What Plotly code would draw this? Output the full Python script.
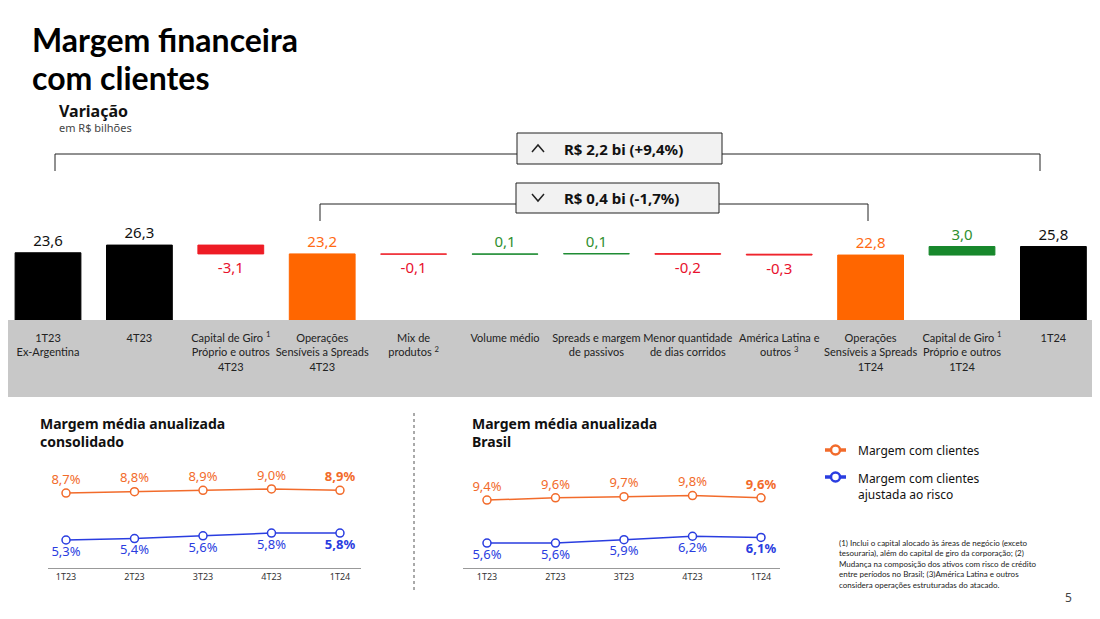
import plotly.graph_objects as go

# the page adds an 8px body margin, so the figure is drawn 8px in from the corner
OFF = 8
W, H = 1100 - 2 * OFF, 619 - 2 * OFF


def px(x):
    return (x - OFF) / W


def py(y):
    return 1 - (y - OFF) / H


# waterfall data
wf_labels = ["1T23<br>Ex-Argentina", "4T23", "Capital de Giro <sup>1</sup><br>Próprio e outros<br>4T23",
             "Operações<br>Sensíveis a Spreads<br>4T23", "Mix de<br>produtos <sup>2</sup>", "Volume médio",
             "Spreads e margem<br>de passivos", "Menor quantidade<br>de dias corridos",
             "América Latina e<br>outros <sup>3</sup>", "Operações<br>Sensíveis a Spreads<br>1T24",
             "Capital de Giro <sup>1</sup><br>Próprio e outros<br>1T24", "1T24"]
wf_values = [23.6, 26.3, -3.1, 23.2, -0.1, 0.1, 0.1, -0.2, -0.3, 22.8, 3.0, 25.8]
wf_measure = ["total", "total", "relative", "subtotal", "relative", "relative", "relative",
              "relative", "relative", "subtotal", "relative", "total"]

# line charts data
quarters = ["1T23", "2T23", "3T23", "4T23", "1T24"]
cons_margem = [8.7, 8.8, 8.9, 9.0, 8.9]
cons_ajustada = [5.3, 5.4, 5.6, 5.8, 5.8]
br_margem = [9.4, 9.6, 9.7, 9.8, 9.6]
br_ajustada = [5.6, 5.6, 5.9, 6.2, 6.1]

BLACK = "#000000"
ORANGE = "#ff6600"
RED = "#ee1c25"
GREEN = "#17882c"
L_ORANGE = "#f26b2b"
L_BLUE = "#2a3de0"
FONT = "Noto Sans"


def fmt(v):
    return f"{v:.1f}".replace(".", ",")


bases, heights, colors, tcolors = [], [], [], []
running = 0
for v, m in zip(wf_values, wf_measure):
    if m == "relative":
        bases.append(running)
        running += v
        colors.append(GREEN if v > 0 else RED)
        tcolors.append("#2f8f2f" if v > 0 else "#e8112d")
    else:
        bases.append(0)
        running = v
        colors.append(BLACK if m == "total" else ORANGE)
        tcolors.append("#111111" if m == "total" else "#ff6a13")
    heights.append(v)

fig = go.Figure()

fig.add_trace(go.Bar(
    x=list(range(len(wf_values))), y=heights, base=bases,
    marker=dict(color=colors, line=dict(color=colors, width=1)),
    width=0.72, text=[fmt(v) for v in wf_values], textposition="outside",
    textfont=dict(color=tcolors, size=15, family=FONT), cliponaxis=False,
    showlegend=False, xaxis="x", yaxis="y"))


def pct(vals):
    out = [fmt(v) + "%" for v in vals]
    out[-1] = "<b>" + out[-1] + "</b>"
    return out


for vals, col, pos, ax in [(cons_margem, L_ORANGE, "top center", "2"),
                           (cons_ajustada, L_BLUE, "bottom center", "2"),
                           (br_margem, L_ORANGE, "top center", "3"),
                           (br_ajustada, L_BLUE, "bottom center", "3")]:
    fig.add_trace(go.Scatter(
        x=quarters, y=vals, mode="lines+markers+text",
        line=dict(color=col, width=1.5),
        marker=dict(symbol="circle", size=8, color="white", line=dict(color=col, width=1.5)),
        text=pct(vals), textposition=pos,
        textfont=dict(color=col, size=13, family=FONT),
        cliponaxis=False, showlegend=False, xaxis="x" + ax, yaxis="y" + ax))

LINE = dict(color="#222", width=1)
shapes = [
    # gray band
    dict(type="rect", x0=0, x1=1, y0=py(397), y1=py(320),
         fillcolor="#c8c8c8", line_width=0, layer="below"),
    # top bracket
    dict(type="line", x0=px(55), x1=px(1040), y0=py(154), y1=py(154), line=LINE),
    dict(type="line", x0=px(55), x1=px(55), y0=py(154), y1=py(171), line=LINE),
    dict(type="line", x0=px(1040), x1=px(1040), y0=py(154), y1=py(171), line=LINE),
    dict(type="rect", x0=px(517), x1=px(722), y0=py(164), y1=py(133), fillcolor="#f2f2f2", line=LINE),
    # second bracket
    dict(type="line", x0=px(320), x1=px(868), y0=py(204), y1=py(204), line=LINE),
    dict(type="line", x0=px(320), x1=px(320), y0=py(204), y1=py(221), line=LINE),
    dict(type="line", x0=px(868), x1=px(868), y0=py(204), y1=py(221), line=LINE),
    dict(type="rect", x0=px(516), x1=px(719), y0=py(213), y1=py(183), fillcolor="#f2f2f2", line=LINE),
    # chevrons
    dict(type="path", path=f"M {px(532)},{py(152)} L {px(538)},{py(145)} L {px(544)},{py(152)}",
         line=dict(color="#222", width=1.5)),
    dict(type="path", path=f"M {px(532)},{py(194)} L {px(538)},{py(201)} L {px(544)},{py(194)}",
         line=dict(color="#222", width=1.5)),
    # divider
    dict(type="line", x0=px(414), x1=px(414), y0=py(413), y1=py(592),
         line=dict(color="#555", width=1, dash="dot")),
]

# custom legend
for yy, col in [(450, L_ORANGE), (477, L_BLUE)]:
    shapes.append(dict(type="line", x0=px(825), x1=px(846), y0=py(yy), y1=py(yy),
                       line=dict(color=col, width=3.5)))
    shapes.append(dict(type="circle", x0=px(831), x1=px(840), y0=py(yy + 4.5), y1=py(yy - 4.5),
                       fillcolor="white", line=dict(color=col, width=2.5)))
for s in shapes:
    s["xref"] = "paper"
    s["yref"] = "paper"

annotations = [
    dict(text="<b>Margem financeira</b>", x=px(30), y=py(40), xanchor="left", yanchor="middle",
         font=dict(size=32, family="Lato", color="#000")),
    dict(text="<b>com clientes</b>", x=px(30), y=py(77), xanchor="left", yanchor="middle",
         font=dict(size=32, family="Lato", color="#000")),
    dict(text="<b>Variação</b>", x=px(57), y=py(111), xanchor="left", yanchor="middle",
         font=dict(size=16, family=FONT, color="#111")),
    dict(text="em R$ bilhões", x=px(57), y=py(128), xanchor="left", yanchor="middle",
         font=dict(size=11, family=FONT, color="#444")),
    dict(text="<b>R$ 2,2 bi (+9,4%)</b>", x=px(562), y=py(149), xanchor="left", yanchor="middle",
         font=dict(size=15, family=FONT, color="#111")),
    dict(text="<b>R$ 0,4 bi (-1,7%)</b>", x=px(562), y=py(198), xanchor="left", yanchor="middle",
         font=dict(size=15, family=FONT, color="#111")),
    dict(text="<b>Margem média anualizada<br>consolidado</b>", x=px(38), y=py(412), xanchor="left",
         yanchor="top", align="left", font=dict(size=14, family=FONT, color="#111")),
    dict(text="<b>Margem média anualizada<br>Brasil</b>", x=px(470), y=py(412), xanchor="left",
         yanchor="top", align="left", font=dict(size=14, family=FONT, color="#111")),
    dict(text="Margem com clientes", x=px(856), y=py(450), xanchor="left", yanchor="middle",
         font=dict(size=12, family=FONT, color="#111")),
    dict(text="Margem com clientes<br>ajustada ao risco", x=px(856), y=py(468), xanchor="left",
         yanchor="top", align="left", font=dict(size=12, family=FONT, color="#111")),
    dict(text="(1) Inclui o capital alocado às áreas de negócio (exceto<br>"
              "tesouraria), além do capital de giro da corporação; (2)<br>"
              "Mudança na composição dos ativos com risco de crédito<br>"
              "entre períodos no Brasil; (3)América Latina e outros<br>"
              "considera operações estruturadas do atacado.",
         x=px(837), y=py(536), xanchor="left", yanchor="top", align="left",
         font=dict(size=8, family="Lato", color="#222")),
    dict(text="5", x=px(1068), y=py(597), xanchor="center", yanchor="middle",
         font=dict(size=12, family=FONT, color="#444")),
]
for a in annotations:
    a["xref"] = "paper"
    a["yref"] = "paper"
    a["showarrow"] = False

step = 91.4  # px between waterfall categories
fig.update_layout(
    width=W, height=H, margin=dict(l=0, r=0, t=0, b=0, autoexpand=False),
    paper_bgcolor="white", plot_bgcolor="rgba(0,0,0,0)",
    font=dict(family=FONT, color="#222"),
    xaxis=dict(domain=[0, 1], range=[-(48 - OFF) / step, (W - (48 - OFF)) / step],
               tickvals=list(range(len(wf_labels))),
               ticktext=wf_labels, ticks="", showline=False, showgrid=False, zeroline=False,
               tickangle=0, automargin=False,
               tickfont=dict(size=11, family="Lato", color="#222"), ticklabelstandoff=10),
    yaxis=dict(domain=[py(320), py(230)], range=[0, 31.6], visible=False),
    xaxis2=dict(domain=[px(48), px(361)], range=[-0.263, 4.307], anchor="y2", showline=True,
                linecolor="#999", linewidth=1, ticks="", showgrid=False, zeroline=False,
                tickangle=0, automargin=False,
                tickfont=dict(size=9, family=FONT, color="#333")),
    yaxis2=dict(domain=[py(568), py(460)], range=[3.27, 11.1], visible=False),
    xaxis3=dict(domain=[px(463), px(780)], range=[-0.35, 4.277], anchor="y3", showline=True,
                linecolor="#999", linewidth=1, ticks="", showgrid=False, zeroline=False,
                tickangle=0, automargin=False,
                tickfont=dict(size=9, family=FONT, color="#333")),
    yaxis3=dict(domain=[py(568), py(460)], range=[3.39, 12.95], visible=False),
    shapes=shapes, annotations=annotations,
)

fig.write_html("out.html")
